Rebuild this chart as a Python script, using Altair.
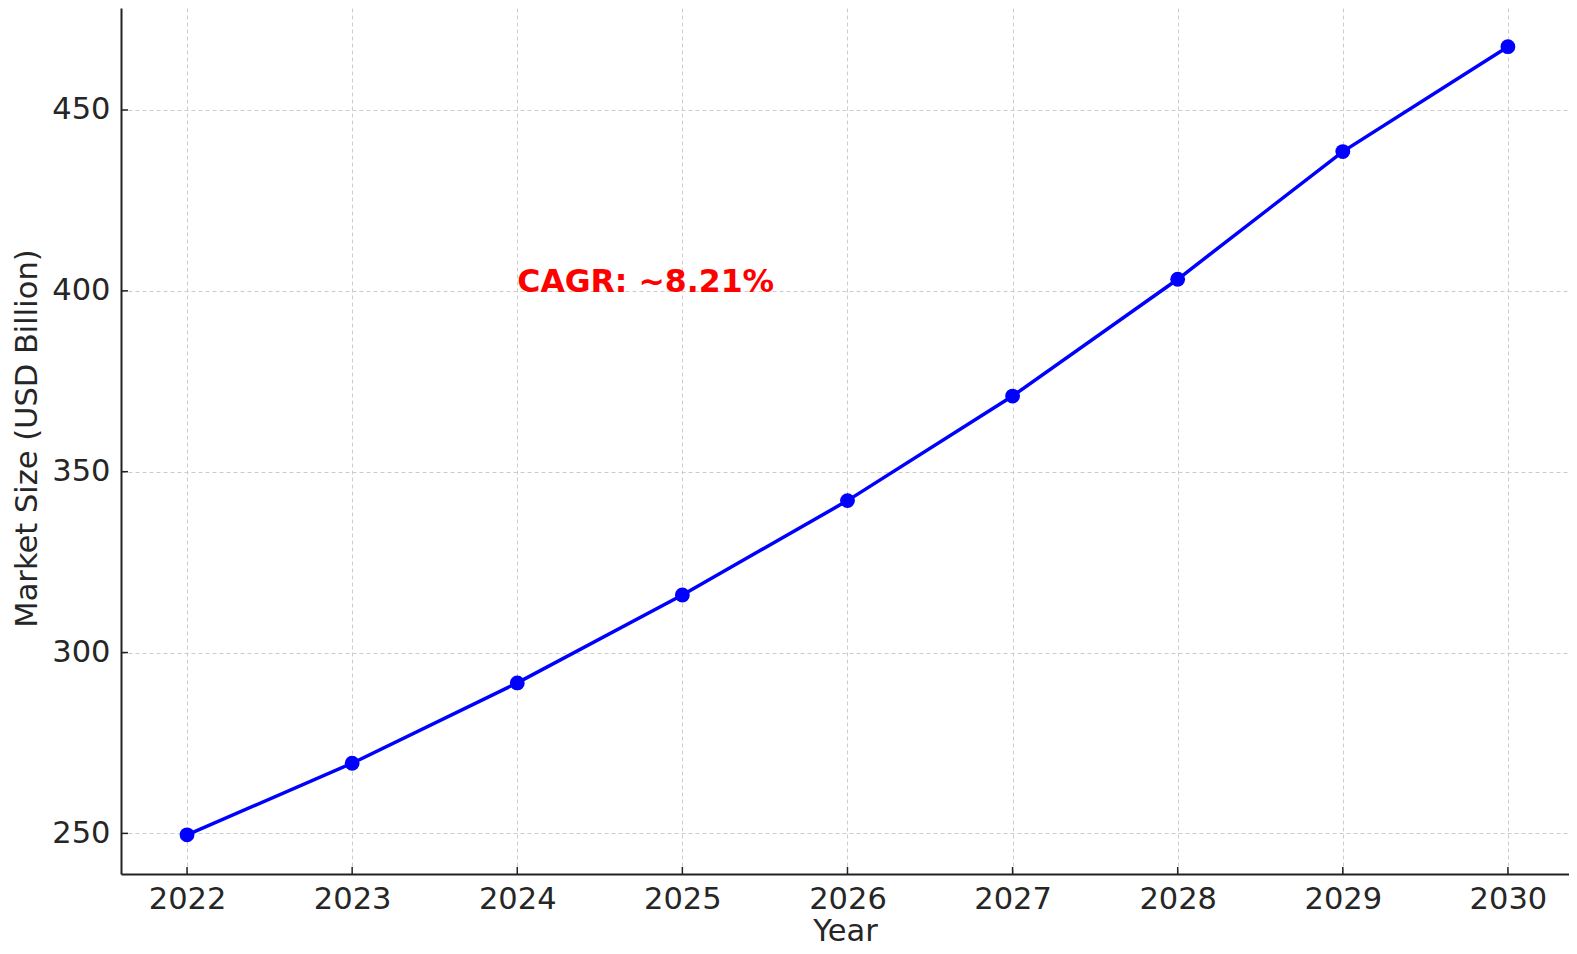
import altair as alt
import pandas as pd

years = [2022, 2023, 2024, 2025, 2026, 2027, 2028, 2029, 2030]
market_size = [249.6, 269.4, 291.6, 315.9, 342.0, 370.9, 403.2, 438.5, 467.5]
y_ticks = [250, 300, 350, 400, 450]
annot_text = ["CAGR: ~8.21%"]
annot_x = [2024]
annot_y = [400]

W, H = 1448, 866
FONT = "DejaVu Sans"

df = pd.DataFrame({"Year": years, "Value": market_size})
yt = pd.DataFrame({"v": y_ticks})
ann = pd.DataFrame({"label": annot_text, "x": annot_x, "y": annot_y})

xscale = alt.Scale(domain=[2021.6, 2030.37], nice=False, zero=False)
yscale = alt.Scale(domain=[238.77, 478.2], nice=False, zero=False)

xaxis = alt.Axis(
    values=years, format="d", title="Year", grid=True,
    gridDash=[4, 3], gridColor="#cccccc", gridWidth=1,
    tickSize=0, labelPadding=10, labelFontSize=30.5, labelFont=FONT,
    labelColor="#262626", titleFontSize=30.5, titleFont=FONT,
    titleFontWeight="normal", titleColor="#262626",
    titleY=66, titleBaseline="alphabetic",
    domainColor="#222222", domainWidth=2, labelFlush=False,
)
yaxis = alt.Axis(
    values=y_ticks, title="Market Size (USD Billion)", grid=True,
    gridDash=[4, 3], gridColor="#cccccc", gridWidth=1,
    tickSize=0, labelPadding=11, labelFontSize=30.5, labelFont=FONT,
    labelColor="#262626", titleFontSize=30.5, titleFont=FONT,
    titleFontWeight="normal", titleColor="#262626",
    titleX=-94, titleY=430, titleBaseline="middle", titleAngle=-90,
    domainColor="#222222", domainWidth=2, labelFlush=False,
)

base = alt.Chart(df)

line = base.mark_line(color="#0000ff", strokeWidth=3.5).encode(
    x=alt.X("Year:Q", scale=xscale, axis=xaxis),
    y=alt.Y("Value:Q", scale=yscale, axis=yaxis),
)
pts = base.mark_point(filled=True, color="#0000ff", size=220, opacity=1).encode(
    x=alt.X("Year:Q", scale=xscale),
    y=alt.Y("Value:Q", scale=yscale),
)

xticks = base.mark_rule(color="#222222", strokeWidth=1.5).encode(
    x=alt.X("Year:Q", scale=xscale),
    y=alt.value(H),
    y2=alt.value(H - 7),
)
yticks = alt.Chart(yt).mark_rule(color="#222222", strokeWidth=1.5).encode(
    y=alt.Y("v:Q", scale=yscale),
    x=alt.value(0),
    x2=alt.value(7),
)

text = alt.Chart(ann).mark_text(
    align="left", baseline="alphabetic", dy=1, fontSize=31.5,
    fontWeight="bold", font=FONT, color="#ff0000",
).encode(
    x=alt.X("x:Q", scale=xscale),
    y=alt.Y("y:Q", scale=yscale),
    text="label:N",
)

chart = (
    alt.layer(line, pts, xticks, yticks, text)
    .properties(
        width=W, height=H,
        autosize=alt.AutoSizeParams(type="none"),
        padding={"left": 113, "top": 0, "right": 0, "bottom": 72},
        background="white",
    )
    .configure_view(stroke="transparent")
)

chart.save("out.html", embed_options={"renderer": "svg", "actions": False})
